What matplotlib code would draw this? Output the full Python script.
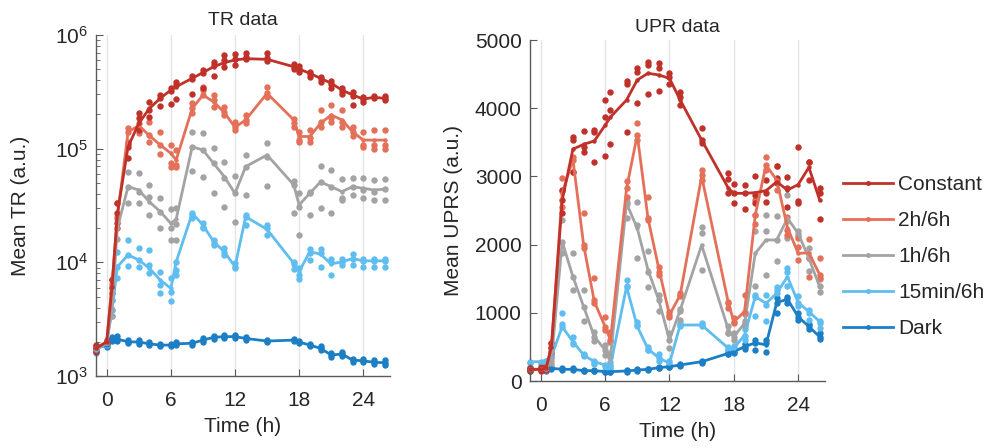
import matplotlib
matplotlib.use("Agg")
import matplotlib.pyplot as plt
from matplotlib.lines import Line2D

plt.rcParams['font.family'] = ['Liberation Sans', 'DejaVu Sans']

# sampling times (h)
time_h = [-1, 0, 0.5, 1, 2, 3, 4, 5, 6, 6.5, 8, 9, 10, 11, 12, 13, 15,
          17.5, 18, 19, 20, 21, 22, 23, 24, 25, 26]

labels = ['Constant', '2h/6h', '1h/6h', '15min/6h', 'Dark']
colors = ['#c0312a', '#e5705a', '#a3a3a3', '#5fbdf0', '#1c7fc6']

# ---- TR data (log scale) ----
tr_const = [1750, 2000, 6110, 27000, 104000, 167000, 226000, 277000, 328000, 351000, 416000, 467000, 526000, 571000,
            603000, 619000, 611000, 526000, 502000, 460000, 416000, 376000, 328000, 297000, 273000, 283000, 277000]
tr_const_reps = [
    [1870, 2070, 7000, 33000, 111000, 205000, 259000, 296000, 345000, 388000, 433000, 492000, 582000, 667000,
     675000, 700000, 690000, 558000, 530000, 476000, 430000, 391000, 339000, 317000, 287000, 291000, 291000],
    [1750, 2000, 6110, 27000, 104000, 185000, 219000, 277000, 324000, 363000, 407000, 467000, 545000, 603000,
     610000, 636000, 623000, 526000, 505000, 453000, 407000, 370000, 324000, 290000, 272000, 285000, 277000],
    [1640, 1940, 5340, 22000, 82000, 146000, 191000, 237000, 247000, 272000, 303000, 339000, 437000, 526000,
     545000, 610000, 595000, 500000, 476000, 430000, 388000, 344000, 303000, 242000, 259000, 277000, 268000]]

tr_2h = [1750, 2000, 6500, 25000, 140000, 160000, 130000, 108000, 91000, 79500, 226000, 296000, 259000, 208000,
         154000, 179000, 307000, 179000, 128000, 128000, 167000, 198000, 179000, 141000, 119000, 119000, 119000]
tr_2h_reps = [
    [1850, 2050, 7200, 33000, 152000, 167000, 173000, 141000, 108000, 97300, 250000, 351000, 296000, 234000,
     173000, 198000, 351000, 181000, 141000, 146000, 219000, 242000, 219000, 156000, 141000, 146000, 146000],
    [1750, 2000, 6500, 25000, 140000, 146000, 132000, 108000, 74300, 72000, 226000, 328000, 268000, 212000,
     156000, 179000, 307000, 167000, 119000, 124000, 173000, 185000, 173000, 141000, 108000, 108000, 108000],
    [1650, 1950, 5800, 20000, 115000, 136000, 115000, 90000, 69500, 69500, 205000, 296000, 234000, 198000,
     146000, 167000, 287000, 156000, 115000, 115000, 156000, 173000, 156000, 128000, 104000, 100000, 100000]]

tr_1h = [1750, 1950, 4000, 20000, 46300, 43300, 34000, 28000, 22000, 24000, 104000, 97300, 74300, 56700,
         40500, 69500, 88000, 48000, 32000, 40500, 51000, 46300, 41900, 46300, 44800, 43300, 44000]
tr_1h_reps = [
    [1850, 2050, 4660, 24000, 62800, 61000, 47900, 36600, 29300, 29900, 141000, 136000, 101000, 77000,
     57800, 88000, 113000, 52300, 40500, 41900, 70000, 64900, 53700, 54900, 54900, 53000, 53700],
    [1750, 1950, 3800, 20000, 46300, 41900, 37800, 28000, 19900, 21600, 104000, 97300, 74300, 55000,
     40500, 69500, 85000, 48000, 30900, 40500, 51000, 46300, 36600, 39100, 43300, 41900, 44000],
    [1650, 1900, 3400, 16000, 33000, 33000, 26000, 19900, 15700, 15700, 63900, 56700, 40500, 30900,
     22800, 39100, 47300, 27000, 17400, 26000, 29900, 27000, 35300, 46300, 36600, 35400, 35400]]

tr_15m = [1690, 1940, 3800, 9160, 11600, 10500, 8850, 7000, 5900, 10100, 27000, 21300, 15200, 12400,
          9160, 25200, 19500, 9800, 8280, 12400, 11800, 9680, 10100, 10800, 10300, 10300, 10300]
tr_15m_reps = [
    [1800, 2000, 4660, 12400, 15700, 13300, 12800, 8280, 7240, 10100, 27400, 22000, 15700, 13300,
     9800, 26100, 21300, 10100, 8850, 13000, 13000, 10700, 10700, 11800, 10700, 10700, 10700],
    [1690, 1940, 3800, 9160, 11600, 10500, 9500, 6330, 5520, 8560, 26100, 20600, 14700, 12400,
     9160, 24800, 19900, 9700, 7740, 12000, 12000, 10000, 10100, 10800, 10300, 10300, 10300],
    [1600, 1880, 3400, 7240, 9300, 9160, 8100, 5400, 4600, 7740, 24400, 19900, 14200, 11600,
     8850, 21300, 17400, 8700, 7100, 10500, 9160, 7740, 9500, 9500, 9160, 9160, 9160]]

tr_dark = [1750, 1870, 2100, 2110, 2000, 1990, 1920, 1870, 1870, 1920, 1940, 2070, 2190, 2220,
           2220, 2140, 2030, 2070, 1990, 1870, 1750, 1530, 1560, 1380, 1360, 1320, 1310]
tr_dark_reps = [
    [1830, 1950, 2200, 2230, 2080, 2080, 1990, 1920, 1920, 1990, 2000, 2140, 2250, 2290,
     2280, 2200, 2080, 2120, 2050, 1930, 1820, 1590, 1620, 1420, 1410, 1390, 1380],
    [1750, 1870, 2110, 2120, 2010, 2000, 1920, 1870, 1880, 1920, 1950, 2070, 2190, 2220,
     2230, 2140, 2030, 2070, 2000, 1870, 1750, 1530, 1560, 1380, 1360, 1320, 1310],
    [1680, 1800, 2040, 2030, 1940, 1920, 1860, 1820, 1830, 1870, 1890, 2010, 2130, 2160,
     2170, 2090, 1980, 2020, 1940, 1820, 1690, 1480, 1510, 1340, 1320, 1270, 1250]]

# ---- UPR data ----
upr_const = [171, 171, 186, 503, 2650, 3400, 3470, 3520, 3750, 3870, 4120, 4414, 4512, 4487,
             4438, 4120, 3534, 2825, 2752, 2752, 2762, 2791, 2920, 2800, 2880, 3133, 2654]
upr_const_reps = [
    [186, 210, 210, 552, 2800, 3583, 3671, 3681, 4120, 4243, 4399, 4585, 4673, 4658,
     4521, 4243, 3705, 3045, 2889, 2874, 3006, 2947, 3153, 2996, 3436, 3216, 2825],
    [171, 171, 186, 479, 2654, 3534, 3436, 3656, 3876, 3974, 4355, 4536, 4634, 4585,
     4463, 4169, 3534, 2957, 2752, 2750, 2728, 2762, 2972, 2825, 2644, 3216, 2752],
    [152, 152, 161, 406, 2459, 3070, 3363, 3207, 3299, 3475, 3646, 4072, 4204, 4257,
     4355, 4047, 3485, 2762, 2605, 2517, 2615, 2620, 2899, 2556, 2615, 2947, 2371]]

upr_2h = [171, 171, 180, 500, 2750, 3250, 1994, 1163, 797, 601, 2825, 3607, 2385, 1652,
          968, 1261, 3000, 1139, 870, 1017, 2434, 3167, 2947, 2250, 1872, 1880, 1560]
upr_2h_reps = [
    [190, 200, 210, 560, 2972, 3290, 2459, 1505, 943, 723, 2938, 3788, 2703, 1676,
     1017, 1286, 3094, 1163, 919, 1261, 2650, 3290, 3153, 2400, 2092, 2077, 1799],
    [171, 171, 180, 500, 2780, 3241, 1994, 1188, 797, 601, 2835, 3607, 2385, 1603,
     968, 1261, 3021, 1139, 870, 1017, 2434, 3167, 2947, 2214, 1970, 1799, 1560],
    [155, 160, 165, 440, 2550, 3070, 1945, 1139, 748, 577, 2703, 3534, 2361, 1554,
     943, 1246, 2950, 1066, 846, 980, 2300, 3094, 2800, 2141, 1774, 1530, 1505]]

upr_1h = [171, 171, 180, 300, 2043, 1530, 1090, 650, 455, 357, 2605, 2239, 1628, 1188,
          601, 1041, 1994, 748, 650, 846, 1872, 2068, 2068, 2385, 2165, 1799, 1383]
upr_1h_reps = [
    [180, 185, 200, 350, 2361, 1872, 1330, 720, 528, 406, 2630, 2630, 1900, 1260,
     700, 1060, 2263, 800, 700, 880, 2440, 2440, 2420, 2720, 2200, 1950, 1500],
    [170, 170, 180, 300, 2043, 1530, 1090, 650, 455, 357, 2600, 2290, 1600, 1190,
     600, 1020, 2165, 700, 640, 850, 2200, 2200, 2070, 2350, 2150, 1800, 1400],
    [160, 160, 165, 250, 1870, 1334, 880, 580, 381, 284, 2390, 1800, 1380, 1020,
     480, 900, 1627, 700, 600, 800, 1400, 1560, 1760, 2100, 2130, 1620, 1300]]

upr_15m = [283, 283, 308, 357, 797, 577, 381, 283, 235, 220, 1383, 800, 470, 340,
           260, 821, 821, 479, 479, 675, 1237, 1139, 1286, 1530, 1150, 1017, 870]
upr_15m_reps = [
    [283, 283, 300, 380, 990, 650, 400, 290, 240, 240, 1480, 860, 500, 400,
     290, 850, 850, 500, 510, 760, 1260, 1260, 1380, 1660, 1240, 1040, 880],
    [260, 250, 260, 350, 830, 560, 380, 260, 220, 200, 1400, 820, 460, 330,
     260, 820, 820, 470, 480, 660, 1230, 1120, 1330, 1600, 1140, 1000, 850],
    [200, 180, 200, 330, 790, 540, 360, 250, 160, 180, 1380, 800, 450, 300,
     230, 800, 800, 460, 450, 600, 950, 880, 1290, 1400, 1100, 900, 780]]

upr_dark = [161, 171, 161, 186, 171, 171, 152, 152, 137, 137, 147, 161, 171, 196,
            210, 235, 283, 406, 430, 503, 560, 530, 1150, 1200, 943, 797, 650]
upr_dark_reps = [
    [175, 180, 175, 200, 185, 185, 165, 160, 150, 150, 160, 170, 180, 205,
     220, 245, 295, 420, 450, 540, 600, 600, 1220, 1230, 990, 830, 700],
    [160, 170, 160, 185, 170, 170, 150, 150, 135, 135, 145, 160, 170, 195,
     210, 235, 283, 400, 420, 500, 560, 550, 1150, 1200, 940, 800, 650],
    [150, 160, 150, 170, 160, 160, 140, 140, 125, 125, 135, 150, 160, 185,
     200, 225, 270, 390, 410, 470, 450, 420, 1000, 1150, 900, 760, 620]]

tr_means = [tr_const, tr_2h, tr_1h, tr_15m, tr_dark]
tr_reps = [tr_const_reps, tr_2h_reps, tr_1h_reps, tr_15m_reps, tr_dark_reps]
upr_means = [upr_const, upr_2h, upr_1h, upr_15m, upr_dark]
upr_reps = [upr_const_reps, upr_2h_reps, upr_1h_reps, upr_15m_reps, upr_dark_reps]

txt = '#262626'
axc = '#5a5a5a'
fs = 15


def draw(ax, means, reps):
    # dark first so constant ends on top
    for i in reversed(range(len(labels))):
        for r in reps[i]:
            ax.plot(time_h, r, 'o', ms=4.6, color=colors[i], mec='none', clip_on=False, zorder=2)
        ax.plot(time_h, means[i], '-', lw=2.0, color=colors[i], marker='o', ms=3.2,
                mec='none', clip_on=False, zorder=3)
    ax.set_xlim(-1, 26.5)
    ax.set_xticks([0, 6, 12, 18, 24])
    ax.grid(axis='x', color='#e4e4e4', lw=1)
    ax.set_axisbelow(True)
    for s in ['top', 'right']:
        ax.spines[s].set_visible(False)
    for s in ['left', 'bottom']:
        ax.spines[s].set_color(axc)
        ax.spines[s].set_linewidth(1)
    ax.tick_params(which='both', direction='in', colors=axc, labelcolor=txt, labelsize=fs)
    ax.tick_params(which='major', length=5)
    ax.tick_params(which='minor', length=3)
    ax.tick_params(axis='x', pad=11)
    ax.tick_params(axis='y', pad=6)
    ax.set_xlabel('Time (h)', fontsize=fs, color=txt)
    ax.xaxis.set_label_coords(0.5, -0.12)


fig = plt.figure(figsize=(9.88, 4.48), dpi=100)
ax1 = fig.add_axes([96 / 988, 1 - 376 / 448, 294 / 988, 341 / 448])
ax2 = fig.add_axes([530 / 988, 1 - 381 / 448, 295 / 988, 341 / 448])

draw(ax1, tr_means, tr_reps)
ax1.set_yscale('log')
ax1.set_ylim(1e3, 1e6)
ax1.set_ylabel('Mean TR (a.u.)', fontsize=fs, color=txt)
ax1.yaxis.set_label_coords(-0.225, 0.5)
ax1.set_title('TR data', fontsize=14, color=txt, pad=7)

draw(ax2, upr_means, upr_reps)
ax2.set_ylim(0, 5000)
ax2.set_yticks([0, 1000, 2000, 3000, 4000, 5000])
ax2.set_ylabel('Mean UPRS (a.u.)', fontsize=fs, color=txt)
ax2.yaxis.set_label_coords(-0.228, 0.5)
ax2.set_title('UPR data', fontsize=14, color=txt, pad=6)

handles = [Line2D([], [], color=c, lw=2.0, marker='o', ms=3.6, mec='none') for c in colors]
fig.legend(handles, labels, loc='center left', bbox_to_anchor=(843 / 988, 1 - 256.5 / 448),
           frameon=False, fontsize=15, handlelength=2.4, handletextpad=0.25,
           labelspacing=0.82, borderpad=0, borderaxespad=0, numpoints=1,
           labelcolor=txt)

fig.savefig('out.png', dpi=100)
